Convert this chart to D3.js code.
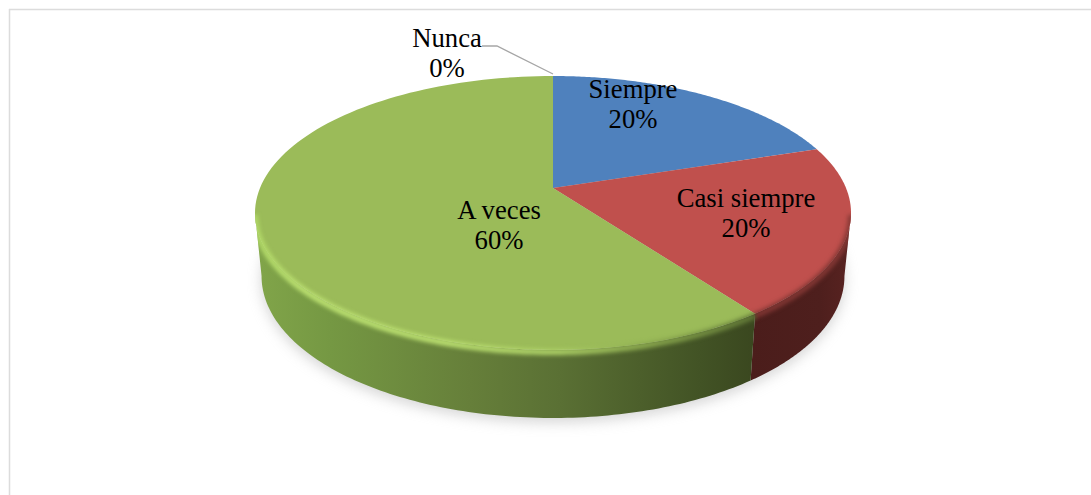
<!DOCTYPE html>
<html><head><meta charset="utf-8">
<script src="https://cdn.jsdelivr.net/npm/d3@7"></script>
<style>html,body{margin:0;padding:0;background:#fff}svg{display:block}text{font-family:"Liberation Serif",serif;font-size:26.7px;fill:#000}</style>
</head><body><svg id="c" width="1091" height="495"></svg>
<script>
const categories = ["Siempre","Casi siempre","A veces","Nunca"];
const values = [20,20,60,0];
const percentLabels = ["20%","20%","60%","0%"];
const colors = ["#4f81bd","#c0504d","#9bbb59","#8064a2"];
const labelAnchors = [[633,89],[746,198],[499,210],[447,38]];

const W=1091,H=495;
const svg=d3.select("#c");
const cx=553,R=293,apexY=188,A=98.1,C=-0.1825;
const pie=d3.pie().sort(null).value(d=>d)(values);
const px=(a,k=1)=>cx+k*R*Math.sin(a)/(1-C*Math.cos(a));
const py=a=>(apexY-A*Math.cos(a))/(1-C*Math.cos(a));
const depth=a=>62-6*Math.cos(a);
const topPt=a=>[px(a),py(a)];
const botPt=a=>[px(a,0.978),py(a)+depth(a)];
const samples=(a0,a1)=>d3.range(0,121).map(i=>a0+(a1-a0)*i/120);
const line=d3.line();
const wideR=Math.acos(C), wideL=2*Math.PI-wideR; // angles of the widest silhouette points

const defs=svg.append("defs");
const blur=(id,s)=>defs.append("filter").attr("id",id).attr("x","-20%").attr("y","-20%").attr("width","140%").attr("height","140%")
  .attr("color-interpolation-filters","sRGB").append("feGaussianBlur").attr("stdDeviation",s);
blur("sh",7);blur("bev",2.2);
const grad=(id,stops)=>{const g=defs.append("linearGradient").attr("id",id).attr("gradientUnits","userSpaceOnUse")
  .attr("x1",250).attr("x2",855).attr("y1",0).attr("y2",0);
  stops.forEach(s=>g.append("stop").attr("offset",(s[0]-250)/605).attr("stop-color",s[1]));};
grad("gSide",[[250,"#82a64a"],[330,"#759843"],[470,"#667f3a"],[560,"#5a7034"],[640,"#4c5f2b"],[700,"#425325"],[755,"#3a471f"]]);
grad("rSide",[[750,"#4b1d1b"],[820,"#4e1f1d"],[855,"#5a2321"]]);
grad("gBev",[[250,"#b0d866"],[300,"#bde272"],[450,"#bde272"],[560,"#accf66"],[650,"#8aa84e"],[755,"#5f7636"]]);
grad("rBev",[[750,"#7e3532"],[855,"#863835"]]);

// frame
const frame=svg.append("g").attr("stroke","#dcdcdc").attr("stroke-width",1.5).attr("fill","none");
frame.append("line").attr("x1",9).attr("x2",W).attr("y1",9.5).attr("y2",9.5);
frame.append("line").attr("x1",9.5).attr("x2",9.5).attr("y1",9).attr("y2",H);

// shadow
const full=samples(0,2*Math.PI);
svg.append("path").attr("d",line(full.map(a=>{const b=botPt(a);return [b[0],b[1]+4];}))+"Z")
  .attr("fill","#a8a8a8").attr("opacity",.5).attr("filter","url(#sh)");

// side walls
const sideFill={1:"url(#rSide)",2:"url(#gSide)"};
const wallPath=(a0,a1)=>{const s=samples(a0,a1);return line(s.map(topPt).concat(s.slice().reverse().map(botPt)))+"Z";};
const ranges={1:[wideR,pie[1].endAngle],2:[pie[2].startAngle,wideL]};
const g=svg.append("g");
pie.forEach((d,i)=>{
  if(!sideFill[i])return;
  g.append("path").attr("d",wallPath(ranges[i][0],ranges[i][1])).attr("fill",sideFill[i]);
});

// top faces
const faces=svg.append("g");
pie.forEach((d,i)=>{
  if(d.value===0)return;
  const p=[[cx,apexY]].concat(samples(d.startAngle,d.endAngle).map(topPt));
  faces.append("path").attr("d",line(p)+"Z").attr("fill",colors[i]);
});

// bevel band along the front rim, kept inside the solid's silhouette
const clip=defs.append("clipPath").attr("id","solid");
clip.append("path").attr("d",line(full.map(topPt))+"Z");
clip.append("path").attr("d",wallPath(wideR,pie[1].endAngle));
clip.append("path").attr("d",wallPath(pie[2].startAngle,wideL));
const bevFill={1:"url(#rBev)",2:"url(#gBev)"};
const bevG=svg.append("g").attr("clip-path","url(#solid)");
pie.forEach((d,i)=>{
  if(!bevFill[i])return;
  const s=samples(ranges[i][0],ranges[i][1]).map(a=>{const t=topPt(a);return [t[0],t[1]+2];});
  bevG.append("path").attr("d",line(s)).attr("fill","none").attr("stroke",bevFill[i]).attr("stroke-width",6)
    .attr("filter","url(#bev)");
});

// leader line for the zero slice
const nT=topPt(pie[3].startAngle);
svg.append("path").attr("d",line([[482,46],[497,46],[nT[0],nT[1]-2]])).attr("fill","none").attr("stroke","#a6a6a6").attr("stroke-width",1.3);

// labels
const lab=svg.append("g").attr("text-anchor","middle");
categories.forEach((c,i)=>{
  const [x,y]=labelAnchors[i];
  lab.append("text").attr("x",x).attr("y",y+9).text(c);
  lab.append("text").attr("x",x).attr("y",y+39).text(percentLabels[i]);
});
</script></body></html>
